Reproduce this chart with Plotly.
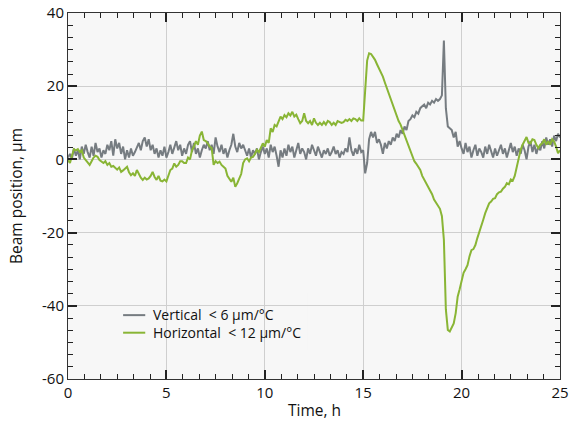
import numpy as np
import plotly.graph_objects as go

# time axis (h), sampled every 0.1 h
time_h = [round(i * 0.1, 1) for i in range(251)]

vertical_um = [
    0.5, 1.5, 0.2, 3.0, 1.0, 2.5, 0.0, 3.5, 1.5, 4.0,
    2.0, 0.5, 3.5, 1.0, 4.5, 2.0, 3.0, 0.5, 2.5, 1.5,
    4.0, 2.5, 5.0, 1.0, 5.5, 3.0, 4.5, 1.5, 3.5, 0.0,
    2.5, 0.5, 3.0, 1.0, 2.0, 3.5, 4.5, 2.5, 5.0, 6.0,
    3.5, 5.5, 2.5, 4.0, 1.5, 3.0, 0.5, 2.5, 1.0, 3.5,
    0.5, 2.0, 4.0, 1.5, 3.5, 5.0, 2.5, 4.0, 1.0, 3.0,
    1.5, 4.0, 5.0, 2.0, 4.5, 1.5, 3.0, 0.5, 2.5, 4.0,
    3.0, 5.0, 2.5, 4.0, 1.5, 6.0, 3.5, 2.0, 4.0, 1.5,
    3.0, 0.5, 2.5, 4.0, 7.0, 3.5, 2.0, 4.5, 3.0, 4.0,
    2.5, 1.0, 3.0, 0.5, 2.5, 1.5, 3.0, 0.0, 2.0, 3.5,
    1.5, 3.0, 0.5, 4.0, 2.0, 3.5, 1.0, -2.0, 2.5, 0.5,
    3.0, 1.0, 4.0, 2.0, 3.5, 0.5, 2.5, 4.5, 1.5, 3.0,
    2.0, 0.0, 3.0, 1.5, 4.0, 2.5, 1.0, 3.5, 2.0, 0.5,
    2.5, 1.5, 3.0, 1.0, 2.0, 3.5, 1.5, 2.5, 0.5, 2.0,
    1.5, 3.0, 2.0, 6.0, 2.5, 1.0, 3.0, 1.5, 4.0, 2.0,
    2.5, -3.8, -1.0, 5.5, 7.5, 6.0, 7.5, 4.5, 5.5, 4.0,
    1.5, 4.5, 3.0, 5.0, 4.0, 6.0, 5.0, 7.0, 6.0, 8.0,
    7.0, 9.0, 8.0, 10.5, 11.0, 12.0, 11.5, 13.0, 12.5, 14.0,
    14.5, 15.0, 14.0, 15.5, 15.0, 16.0, 15.5, 16.5, 16.0, 16.5,
    17.5, 32.5, 14.0, 9.0, 8.5, 8.0, 6.0, 7.5, 3.5, 5.0,
    3.0, 1.5, 4.5, 2.0, 3.5, 0.5, 2.5, 4.0, 1.0, 3.0,
    2.0, 0.5, 3.5, 1.5, 4.0, 2.5, 0.5, 3.0, 1.0, 2.5,
    4.0, 1.5, 3.0, 0.5, 2.5, 4.5, 2.0, 3.5, 1.0, 3.0,
    1.5, 4.0, 2.5, 0.0, 3.5, 5.0, 2.0, 4.0, 1.5, 3.5,
    2.5, 5.0, 3.0, 6.0, 4.0, 5.5, 3.5, 6.5, 5.0, 7.0,
    6.0,
]

horizontal_um = [
    -0.2, -1.0, 1.0, 2.8, 2.5, 2.8, 2.0, 2.5, 0.5, -0.2,
    -1.0, -1.5, -0.5, 0.5, 1.0, 0.7, -0.2, -0.6, -1.0, -0.5,
    -1.5, -1.0, -2.0, -1.8, -2.4, -2.8, -2.2, -3.4, -3.0, -2.5,
    -2.0, -3.5, -4.3, -3.8, -4.5, -2.9, -4.0, -5.0, -5.6, -5.0,
    -5.5, -5.2, -4.5, -3.4, -4.8, -5.6, -4.5, -5.8, -6.0, -5.5,
    -6.0, -4.5, -2.9, -2.5, -1.1, -2.0, -1.5, -0.5, -0.5, -1.0,
    -1.0, 0.5, 0.0, 2.5, 3.5, 5.0, 4.0, 6.5, 7.6, 5.3,
    5.0, 4.4, 3.5, 3.1, -1.5, -0.5, -1.0, -0.6, -1.5, -2.0,
    -2.5, -4.5, -5.5, -6.1, -5.0, -7.5, -6.5, -5.1, -4.0, -1.0,
    0.0, 0.3, -0.5, 0.5, 0.7, 1.5, 2.6, 2.0, 3.5, 4.4,
    3.5, 5.3, 4.5, 8.5, 7.5, 9.4, 9.0, 10.5, 11.7, 11.0,
    12.1, 11.5, 12.6, 12.0, 13.0, 11.7, 12.2, 11.0, 9.9, 10.5,
    12.6, 10.5, 9.9, 10.5, 9.4, 11.2, 10.0, 9.4, 10.0, 9.4,
    10.2, 9.5, 10.5, 10.2, 9.4, 10.0, 9.4, 10.5, 10.2, 10.0,
    10.2, 10.8, 10.5, 11.0, 10.5, 11.2, 11.0, 10.5, 11.2, 10.6,
    10.6, 20.0, 27.0, 29.0, 28.8, 28.0, 27.2, 26.0, 25.0, 24.0,
    22.6, 21.0, 19.5, 17.5, 16.0, 14.9, 13.5, 12.0, 10.5, 9.5,
    8.0, 7.0, 5.5, 4.0, 2.5, 0.5, -0.5, -1.2, -2.0, -2.9,
    -4.5, -5.5, -6.5, -7.5, -8.5, -9.5, -11.0, -11.8, -12.5, -13.5,
    -15.5, -22.0, -41.0, -46.6, -47.0, -46.0, -44.8, -42.0, -37.5, -35.5,
    -33.0, -31.0, -30.0, -28.9, -26.5, -24.8, -24.5, -23.4, -21.5, -20.0,
    -18.0, -16.5, -14.7, -13.5, -12.0, -11.5, -10.8, -10.6, -9.5, -9.0,
    -8.8, -8.0, -7.5, -6.5, -6.8, -5.5, -5.8, -4.5, -2.0, 1.0,
    2.6, 4.0, 5.3, 6.1, 4.5, 4.4, 5.5, 5.3, 4.0, 3.1,
    4.0, 4.4, 5.5, 4.0, 5.0, 4.0, 5.5, 4.9, 3.5, 1.7,
    2.5,
]

series_names = ["Vertical\u00a0\u00a0< 6 µm/°C", "Horizontal\u00a0\u00a0< 12 µm/°C"]
x_ticks = [0, 5, 10, 15, 20, 25]
y_ticks = [40, 20, 0, -20, -40, -60]
y_ticktext = ["40", "20", "0", "-20", "-40", "-60"]

GRAY = "#767c81"
GREEN = "#89b535"
BG = "#f7f7f7"
FONT = "Open Sans"
colors = [GRAY, GREEN]

fig = go.Figure()
fig.add_trace(go.Scatter(x=time_h, y=vertical_um, mode="lines",
                         name=series_names[0], showlegend=False,
                         line=dict(color=GRAY, width=2)))
fig.add_trace(go.Scatter(x=time_h, y=horizontal_um, mode="lines",
                         name=series_names[1], showlegend=False,
                         line=dict(color=GREEN, width=2)))

# manual legend: a box that hides the grid, short line samples, one 2-line label
shapes = [dict(type="rect", xref="paper", yref="paper", layer="between",
               x0=0.077, x1=0.486, y0=0.079, y1=0.235,
               fillcolor=BG, line=dict(width=0))]
legend_rows_y = [0.1745, 0.1265]
for col, ly in zip(colors, legend_rows_y):
    shapes.append(dict(type="line", xref="paper", yref="paper",
                       x0=0.112, x1=0.157, y0=ly, y1=ly,
                       line=dict(color=col, width=2)))

annotations = [
    dict(text="<br>".join(series_names), xref="paper", yref="paper",
         x=0.171, y=sum(legend_rows_y) / 2, xanchor="left", yanchor="middle",
         align="left", showarrow=False, borderpad=0,
         font=dict(family=FONT, size=14, color="#111111")),
    dict(text="Time, h", xref="paper", yref="paper",
         x=0.5, y=-0.085, xanchor="center", yanchor="middle",
         showarrow=False, font=dict(family=FONT, size=15.5, color="#111111")),
]

axis_common = dict(
    automargin=False,
    showline=True, linecolor="#333333", linewidth=1, mirror="ticks",
    ticks="inside", ticklen=9, tickcolor="#222222", tickwidth=1.5,
    showgrid=True, gridcolor="#cfcfcf", gridwidth=1.2, zeroline=False,
    tickfont=dict(family=FONT, size=15, color="#111111"),
)

fig.update_layout(
    width=577, height=432,
    margin=dict(l=68, r=17, t=13, b=53, autoexpand=False),
    paper_bgcolor="white", plot_bgcolor=BG,
    font=dict(family=FONT, size=14, color="#111111"),
    showlegend=False,
    shapes=shapes,
    annotations=annotations,
    xaxis=dict(range=[0, 25], tickvals=x_ticks,
               minor=dict(dtick=5 / 6, ticks="inside", ticklen=5,
                          tickcolor="#222222", tickwidth=1.2, showgrid=False),
               **axis_common),
    yaxis=dict(range=[-60, 40], tickvals=y_ticks, ticktext=y_ticktext,
               minor=dict(dtick=20 / 6, ticks="inside", ticklen=5,
                          tickcolor="#222222", tickwidth=1.2, showgrid=False),
               title=dict(text="Beam position, µm", font=dict(family=FONT, size=15.5)),
               **axis_common),
)

fig.write_html("out.html")
